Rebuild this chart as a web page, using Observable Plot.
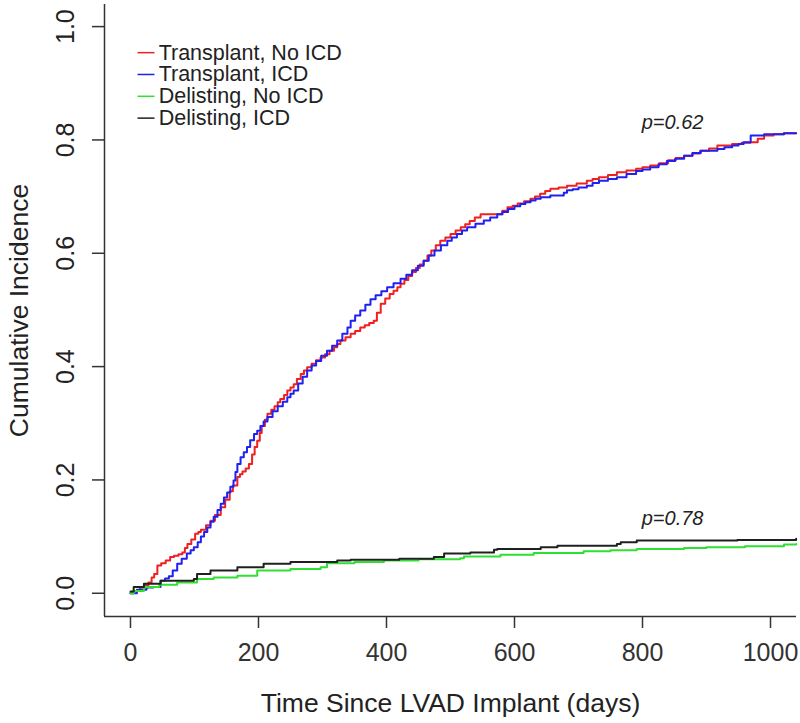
<!DOCTYPE html>
<html>
<head>
<meta charset="utf-8">
<script src="https://cdn.jsdelivr.net/npm/d3@7"></script>
<script src="https://cdn.jsdelivr.net/npm/@observablehq/plot@0.6"></script>
<style>
  html, body { margin: 0; padding: 0; background: #fff; }
  #chart { width: 800px; height: 723px; }
</style>
</head>
<body>
<div id="chart"></div>
<script>
// ---------------- data ----------------
const seriesNames = ["Transplant, No ICD", "Transplant, ICD", "Delisting, No ICD", "Delisting, ICD"];
const seriesColors = ["#f02020", "#2020f0", "#30e030", "#202020"];

const transplantNoIcdDays = [0,5,15,22,28,33,37,42,48,55,62,68,75,81,85,89,95,101,106,110,118,125,132,141,148,155,160,167,171,175,180,185,190,194,198,202,205,210,214,220,225,230,234,240,245,250,255,260,266,271,276,283,290,297,304,311,318,323,328,336,344,351,359,366,373,380,385,391,398,405,411,417,422,428,434,440,446,452,458,464,470,477,484,492,500,508,516,523,530,538,547,573,581,589,597,605,615,625,632,640,648,656,669,682,697,713,722,732,746,760,775,790,800,812,826,840,852,865,878,890,904,917,940,955,969,980,990,1005,1021,1040];
const transplantNoIcdValues = [0,0.004,0.010,0.014,0.019,0.028,0.034,0.049,0.053,0.058,0.064,0.066,0.069,0.072,0.080,0.087,0.095,0.105,0.108,0.112,0.120,0.128,0.138,0.152,0.165,0.180,0.190,0.205,0.210,0.215,0.220,0.228,0.245,0.258,0.269,0.283,0.295,0.306,0.317,0.324,0.330,0.337,0.343,0.350,0.358,0.363,0.369,0.378,0.387,0.393,0.399,0.405,0.411,0.416,0.422,0.428,0.434,0.440,0.446,0.452,0.458,0.463,0.469,0.473,0.477,0.481,0.495,0.511,0.520,0.528,0.534,0.540,0.546,0.553,0.560,0.567,0.574,0.580,0.587,0.596,0.605,0.614,0.622,0.628,0.634,0.640,0.646,0.651,0.657,0.663,0.669,0.669,0.675,0.681,0.684,0.688,0.692,0.696,0.700,0.705,0.710,0.714,0.716,0.719,0.723,0.728,0.731,0.734,0.738,0.743,0.746,0.749,0.752,0.755,0.759,0.764,0.768,0.772,0.776,0.781,0.785,0.790,0.793,0.795,0.796,0.802,0.808,0.810,0.812,0.812];

const transplantIcdDays = [0,10,25,36,47,54,60,66,73,80,88,94,99,105,110,115,120,125,130,136,141,146,151,156,161,164,167,172,177,182,187,193,198,203,208,214,222,230,238,245,250,255,262,269,276,283,290,298,307,315,323,331,339,344,351,359,367,375,383,392,401,411,422,431,440,449,458,466,475,485,495,502,510,518,526,539,552,562,573,581,590,600,609,617,625,633,641,656,672,677,682,691,700,713,722,732,746,760,775,790,800,812,825,838,851,865,878,891,917,928,940,950,958,969,990,1021,1040];
const transplantIcdValues = [0,0.006,0.010,0.011,0.022,0.026,0.030,0.040,0.052,0.061,0.070,0.076,0.081,0.090,0.100,0.108,0.116,0.126,0.135,0.147,0.158,0.169,0.178,0.188,0.199,0.214,0.228,0.240,0.249,0.258,0.270,0.281,0.287,0.295,0.303,0.311,0.321,0.330,0.338,0.346,0.352,0.358,0.370,0.382,0.393,0.402,0.410,0.419,0.428,0.437,0.446,0.458,0.469,0.481,0.490,0.499,0.509,0.519,0.526,0.533,0.540,0.547,0.555,0.562,0.570,0.578,0.587,0.596,0.605,0.614,0.622,0.628,0.634,0.640,0.646,0.652,0.658,0.663,0.669,0.673,0.678,0.683,0.687,0.690,0.693,0.696,0.699,0.702,0.702,0.707,0.711,0.713,0.716,0.719,0.724,0.728,0.731,0.734,0.740,0.745,0.748,0.752,0.757,0.763,0.767,0.772,0.777,0.781,0.784,0.787,0.790,0.793,0.796,0.808,0.810,0.812,0.812];

const delistingNoIcdDays = [0,5,21,45,73,104,130,167,198,250,297,307,350,396,450,515,521,578,630,708,750,791,865,900,960,1021,1040];
const delistingNoIcdValues = [0,0.004,0.011,0.015,0.019,0.025,0.028,0.031,0.040,0.043,0.046,0.053,0.055,0.058,0.060,0.062,0.065,0.068,0.071,0.074,0.076,0.078,0.080,0.081,0.083,0.086,0.087];

const delistingIcdDays = [0,5,21,47,99,104,125,167,208,250,323,344,420,474,490,531,568,573,641,667,760,766,791,948,1040];
const delistingIcdValues = [0.003,0.011,0.017,0.022,0.025,0.034,0.040,0.046,0.052,0.055,0.058,0.059,0.061,0.064,0.070,0.072,0.077,0.078,0.081,0.084,0.087,0.090,0.093,0.094,0.096];

const xTicks = [0, 200, 400, 600, 800, 1000];
const yTicks = [0, 0.2, 0.4, 0.6, 0.8, 1.0];
const pLabels = ["p=0.62", "p=0.78"];
const pDays = [847, 847];
const pValuesY = [0.830, 0.132];

const xLabel = "Time Since LVAD Implant (days)";
const yLabel = "Cumulative Incidence";

// ---------------- layout ----------------
const xDomain = [-40.6, 1040.6];
const yDomain = [-0.041, 1.039];
const legendX1 = 11, legendX2 = 37.5, legendTextX = 44;
const legendTopY = 0.954, legendStep = 0.0385;

// build tidy table
const seriesDays = [transplantNoIcdDays, transplantIcdDays, delistingNoIcdDays, delistingIcdDays];
const seriesVals = [transplantNoIcdValues, transplantIcdValues, delistingNoIcdValues, delistingIcdValues];
const rows = [];
seriesNames.forEach((name, i) => {
  seriesDays[i].forEach((d, j) => rows.push({series: name, day: d, value: seriesVals[i][j]}));
});
const legendRows = seriesNames.map((name, i) => ({
  series: name, y: legendTopY - i * legendStep, x1: legendX1, x2: legendX2, tx: legendTextX
}));
const pRows = pLabels.map((t, i) => ({text: t, day: pDays[i], value: pValuesY[i]}));

const font = "'Liberation Sans', Arial, Helvetica, sans-serif";

const chart = Plot.plot({
  width: 800,
  height: 723,
  marginLeft: 104,
  marginRight: 4,
  marginTop: 4,
  marginBottom: 107,
  style: {fontFamily: font, color: "#333", background: "#fff", overflow: "visible"},
  x: {domain: xDomain, label: null},
  y: {domain: yDomain, label: null},
  color: {domain: seriesNames, range: seriesColors},
  marks: [
    // curves
    Plot.line(rows, {x: "day", y: "value", z: "series", stroke: "series", curve: "step-after", strokeWidth: 2}),
    // frame (L-shaped)
    Plot.ruleX([xDomain[0]], {stroke: "#333", strokeWidth: 1.5}),
    Plot.ruleY([yDomain[0]], {stroke: "#333", strokeWidth: 1.5}),
    // x axis
    Plot.axisX({ticks: xTicks, tickSize: 12, tickPadding: 15, fontSize: 25, label: null, tickFormat: d => String(d), strokeWidth: 1.5}),
    Plot.text([xLabel], {frameAnchor: "bottom", dy: 87.5, fontSize: 26.5, lineAnchor: "middle", fill: "#222"}),
    // y axis
    Plot.axisY({ticks: yTicks, tickSize: 12, tickFormat: () => "", label: null, strokeWidth: 1.5}),
    Plot.text(yTicks, {y: d => d, text: d => d.toFixed(1), frameAnchor: "left", dx: -39, rotate: -90, textAnchor: "middle", lineAnchor: "middle", fontSize: 25, fill: "#222"}),
    Plot.text([yLabel], {frameAnchor: "left", dx: -85, rotate: -90, textAnchor: "middle", lineAnchor: "middle", fontSize: 26.5, fill: "#222"}),
    // legend
    Plot.link(legendRows, {x1: "x1", x2: "x2", y1: "y", y2: "y", stroke: "series", strokeWidth: 1.5}),
    Plot.text(legendRows, {x: "tx", y: "y", text: "series", textAnchor: "start", lineAnchor: "middle", fontSize: 21.5, fill: "#222"}),
    // p-values
    Plot.text(pRows, {x: "day", y: "value", text: "text", fontSize: 20, fontStyle: "italic", lineAnchor: "middle", fill: "#222"})
  ]
});
document.getElementById("chart").appendChild(chart);
</script>
</body>
</html>
